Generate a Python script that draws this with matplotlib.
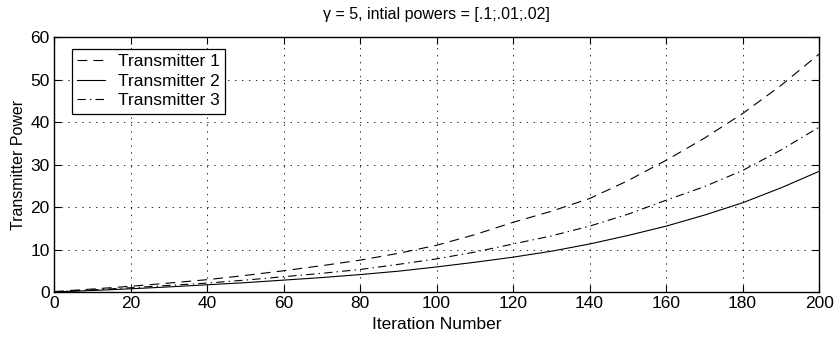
import matplotlib
matplotlib.use('Agg')
import matplotlib.pyplot as plt

# values
iterations = [0, 10, 20, 30, 40, 50, 60, 70, 80, 90, 100,
              110, 120, 130, 140, 150, 160, 170, 180, 190, 200]
tx1 = [0.1, 0.7, 1.35, 2.1, 2.9, 3.9, 5.0, 6.2, 7.5, 9.1, 11.0,
       13.5, 16.4, 19.0, 22.0, 26.2, 31.0, 36.2, 42.0, 48.6, 56.0]
tx2 = [0.01, 0.35, 0.75, 1.2, 1.7, 2.2, 2.8, 3.4, 4.1, 4.9, 5.9,
       7.0, 8.2, 9.6, 11.3, 13.3, 15.5, 18.1, 21.0, 24.5, 28.4]
tx3 = [0.02, 0.5, 1.0, 1.55, 2.1, 2.8, 3.6, 4.4, 5.3, 6.5, 7.8,
       9.4, 11.3, 13.2, 15.5, 18.3, 21.6, 24.8, 28.6, 33.4, 38.8]

plt.rcParams['font.family'] = ['Liberation Sans', 'DejaVu Sans']
plt.rcParams['font.size'] = 12
plt.rcParams['lines.scale_dashes'] = False

fig = plt.figure(figsize=(8.35, 3.37), dpi=100)
ax = fig.add_axes([0.0647, 0.1335, 0.9163, 0.7565])

ax.plot(iterations, tx1, color='black', lw=0.8, dashes=(7, 4.5), label='Transmitter 1')
ax.plot(iterations, tx2, color='black', lw=0.8, label='Transmitter 2')
ax.plot(iterations, tx3, color='black', lw=0.8, dashes=(6, 3, 1, 3), label='Transmitter 3')

ax.set_xlim(0, 200)
ax.set_ylim(0, 60)
ax.set_xticks(range(0, 201, 20))
ax.set_yticks(range(0, 61, 10))
ax.grid(True, color='black', linestyle=(0, (1, 4)), lw=0.6)
ax.tick_params(direction='in', top=True, right=True, length=5, width=0.8, pad=3,
               labelsize=12.5)
for s in ax.spines.values():
    s.set_linewidth(1.0)

ax.set_xlabel('Iteration Number', fontsize=12.5, labelpad=4)
ax.set_ylabel('Transmitter Power', fontsize=11.5, labelpad=3)
ax.set_title('γ = 5, intial powers = [.1;.01;.02]', fontsize=11.5, pad=13)

leg = ax.legend(loc='upper left', bbox_to_anchor=(0.0235, 0.953), borderaxespad=0,
                fancybox=False, edgecolor='black', framealpha=1, fontsize=12.5,
                handlelength=1.6, borderpad=0.3, labelspacing=0.25, handletextpad=0.75)
leg.get_frame().set_linewidth(0.9)

fig.savefig('out.png', dpi=100)
